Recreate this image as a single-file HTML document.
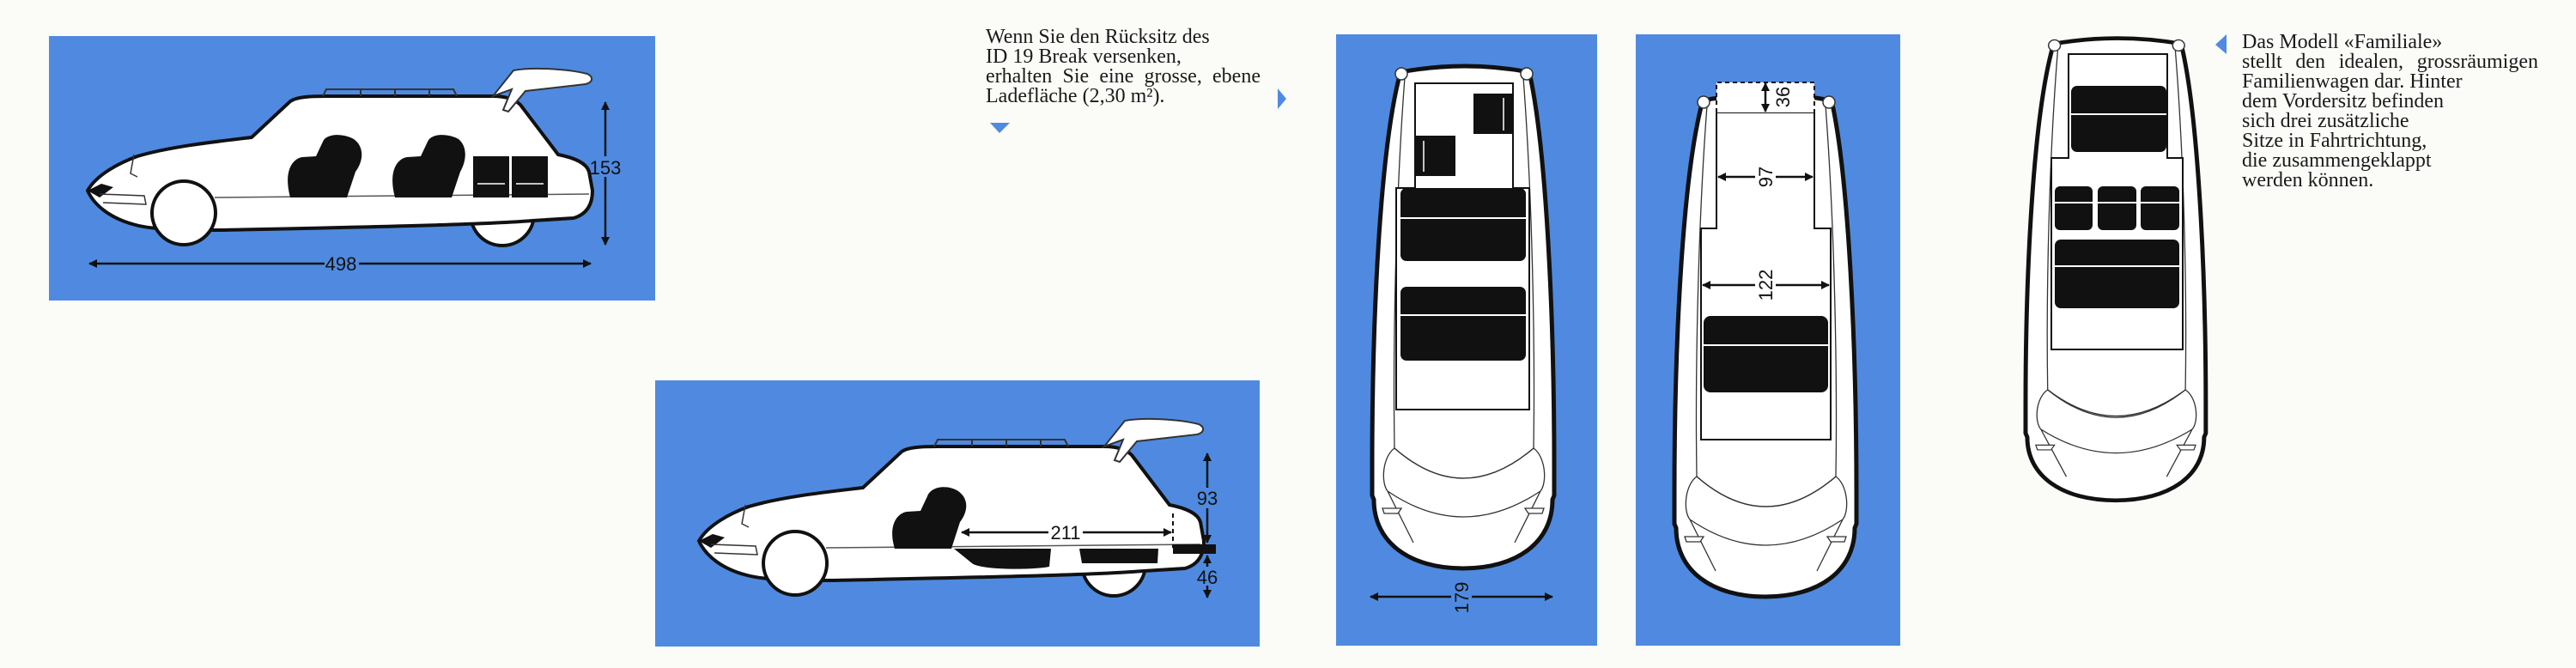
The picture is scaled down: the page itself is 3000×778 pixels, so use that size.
<!DOCTYPE html>
<html><head><meta charset="utf-8"><style>
html,body{margin:0;padding:0;background:#fbfbf8;}
body{width:3000px;height:778px;position:relative;overflow:hidden;}
.t{position:absolute;font-family:"Liberation Serif",serif;font-size:24px;line-height:23px;color:#1a1a1a;}
.j{text-align:justify;}
</style></head><body>
<svg width="3000" height="778" viewBox="0 0 3000 778" style="position:absolute;left:0;top:0">
<defs>
<g id="side">
  <circle cx="585" cy="249" r="37" fill="#fff" stroke="#111" stroke-width="4"/>
  <path d="M102,222 C112,204 138,190 160,182 C200,170 260,164 293,160 L338,118 C345,113 360,112 380,112 L574,112 C590,112 600,116 606,122 L650,180 C670,184 683,190 686,200 L690,222 C690,240 682,250 668,254 L620,257 C560,262 400,265 255,268 C220,268 180,268 158,262 C130,255 110,240 102,222 Z" fill="#fff" stroke="#111" stroke-width="4"/>
  <path d="M102,222 L118,214 L132,218 L116,230 Z" fill="#111"/>
  <path d="M116,226 L168,228 L170,238 L120,236" fill="none" stroke="#333" stroke-width="1.5"/>
  <path d="M156,180 L152,202 L160,206" fill="none" stroke="#333" stroke-width="1.5"/>
  <path d="M250,230 L686,226" stroke="#555" stroke-width="1.5"/>
  <path d="M574,112 L598,82 C620,78 660,80 684,86 C692,90 690,96 682,98 L612,106 L592,130 L586,128 L596,104 Z" fill="#fff" stroke="#333" stroke-width="2"/>
  <path d="M376,112 L380,104 L528,104 L532,112 M420,104 L420,112 M460,104 L460,112 M500,104 L500,112" fill="none" stroke="#333" stroke-width="2"/>
  <circle cx="214" cy="248" r="37" fill="#fff" stroke="#111" stroke-width="4"/>
</g>
<g id="topcar">
  <path d="M35,12 Q110,-2 185,12 C205,100 214,300 214,470 L214,505 L212,510 C212,560 170,590 108,590 C46,590 4,560 4,510 L2,505 L2,470 C2,300 11,100 35,12 Z" fill="#fff" stroke="#111" stroke-width="5"/>
  <path d="M40,18 C30,150 26,320 28,450 M178,18 C188,150 192,320 190,450" fill="none" stroke="#333" stroke-width="1.3"/>
  <path d="M28,450 C14,460 12,490 20,500 L50,560 M190,450 C204,460 206,490 198,500 L168,560 M20,500 Q108,560 198,500" fill="none" stroke="#333" stroke-width="1.3"/>
  <path d="M28,450 Q108,520 190,450" fill="none" stroke="#333" stroke-width="1.3"/>
  <path d="M14,520 L36,520 L32,526 L16,526 Z M202,520 L180,520 L184,526 L200,526 Z" fill="#fff" stroke="#333" stroke-width="1.3"/>
  <circle cx="36" cy="14" r="7" fill="#fff" stroke="#333" stroke-width="1.5"/>
  <circle cx="182" cy="14" r="7" fill="#fff" stroke="#333" stroke-width="1.5"/>
</g>
<marker id="ah" viewBox="0 0 10 10" refX="9" refY="5" markerWidth="4" markerHeight="4" orient="auto-start-reverse"><path d="M0,0 L10,5 L0,10 Z" fill="#111"/></marker>
</defs>

<rect x="57" y="42" width="706" height="308" fill="#4f8ae0"/>
<use href="#side"/>
<path d="M338,230 C330,200 340,185 352,183 L368,182 L376,165 C380,155 400,155 412,162 C426,172 422,190 414,200 L404,230 Z" fill="#111"/>
<path d="M460,230 C452,200 462,185 474,183 L490,182 L498,165 C502,155 522,155 534,162 C546,172 542,190 536,200 L526,230 Z" fill="#111"/>
<rect x="551" y="182" width="42" height="48" fill="#111"/><rect x="596" y="182" width="42" height="48" fill="#111"/>
<path d="M556,214 L588,214 M601,214 L633,214" stroke="#fff" stroke-width="1.5"/>
<line x1="104" y1="307" x2="688" y2="307" stroke="#111" stroke-width="2.5" marker-start="url(#ah)" marker-end="url(#ah)"/>
<rect x="378" y="296" width="40" height="22" fill="#4f8ae0"/>
<text x="397" y="315" font-family="Liberation Sans,sans-serif" font-size="22" text-anchor="middle" fill="#111">498</text>
<line x1="705" y1="119" x2="705" y2="285" stroke="#111" stroke-width="2.5" marker-start="url(#ah)" marker-end="url(#ah)"/>
<rect x="690" y="182" width="34" height="24" fill="#4f8ae0"/>
<text x="705" y="203" font-family="Liberation Sans,sans-serif" font-size="22" text-anchor="middle" fill="#111">153</text>

<rect x="763" y="443" width="704" height="310" fill="#4f8ae0"/>
<g transform="translate(712,408)">
<use href="#side"/>
<path d="M330,231 C322,205 332,190 344,188 L360,187 L368,170 C372,158 392,156 404,164 C418,174 414,190 406,200 L396,231 Z" fill="#111"/>
<path d="M399,231 L512,231 L510,252 C490,256 430,256 420,248 Z" fill="#111"/>
<path d="M545,231 L637,231 L636,248 L548,248 Z" fill="#111"/>
<rect x="654" y="226" width="50" height="11" fill="#111"/>
<line x1="654" y1="190" x2="654" y2="230" stroke="#111" stroke-width="2" stroke-dasharray="5,4"/>
<line x1="408" y1="212" x2="652" y2="212" stroke="#111" stroke-width="2.5" marker-start="url(#ah)" marker-end="url(#ah)"/>
<rect x="509" y="200" width="40" height="24" fill="#fff"/>
<text x="529" y="220" font-family="Liberation Sans,sans-serif" font-size="22" text-anchor="middle" fill="#111">211</text>
<line x1="694" y1="120" x2="694" y2="224" stroke="#111" stroke-width="2.5" marker-start="url(#ah)" marker-end="url(#ah)"/>
<rect x="682" y="160" width="26" height="24" fill="#4f8ae0"/>
<text x="694" y="180" font-family="Liberation Sans,sans-serif" font-size="22" text-anchor="middle" fill="#111">93</text>
<line x1="694" y1="239" x2="694" y2="288" stroke="#111" stroke-width="2.5" marker-start="url(#ah)" marker-end="url(#ah)"/>
<rect x="682" y="252" width="26" height="22" fill="#4f8ae0"/>
<text x="694" y="272" font-family="Liberation Sans,sans-serif" font-size="22" text-anchor="middle" fill="#111">46</text>
</g>

<rect x="1556" y="40" width="304" height="712" fill="#4f8ae0"/>
<g transform="translate(1596,72)">
<use href="#topcar"/>
<path d="M52,147 L52,25 L166,25 L166,147 L185,147 L185,405 L30,405 L30,147 Z" fill="#fff" stroke="#111" stroke-width="2"/>
<path d="M28,450 Q108,520 190,450" fill="none" stroke="#333" stroke-width="1.3"/>
<rect x="120" y="37" width="45" height="47" fill="#111"/><line x1="155" y1="42" x2="155" y2="80" stroke="#fff" stroke-width="1.5"/>
<rect x="51" y="86" width="48" height="47" fill="#111"/><line x1="62" y1="92" x2="62" y2="128" stroke="#fff" stroke-width="1.5"/>
<rect x="35" y="147" width="146" height="85" rx="7" fill="#111"/><line x1="35" y1="182" x2="181" y2="182" stroke="#fff" stroke-width="2"/>
<rect x="35" y="262" width="146" height="86" rx="7" fill="#111"/><line x1="35" y1="295" x2="181" y2="295" stroke="#fff" stroke-width="2"/>
</g>
<line x1="1596" y1="695" x2="1808" y2="695" stroke="#111" stroke-width="2.5" marker-start="url(#ah)" marker-end="url(#ah)"/>
<rect x="1690" y="678" width="24" height="36" fill="#4f8ae0"/>
<text transform="translate(1710,696) rotate(-90)" font-family="Liberation Sans,sans-serif" font-size="22" text-anchor="middle" fill="#111">179</text>

<rect x="1905" y="40" width="308" height="712" fill="#4f8ae0"/>
<g transform="translate(1948,105)">
<use href="#topcar"/>
<path d="M51,161 L51,26 L165,26 L165,161 L184,161 L184,407 L33,407 L33,161 Z" fill="#fff" stroke="#111" stroke-width="2"/>
<path d="M28,450 Q108,520 190,450" fill="none" stroke="#333" stroke-width="1.3"/>
<path d="M51,26 L51,-9 L165,-9 L165,26" fill="#fff" stroke="#111" stroke-width="2" stroke-dasharray="5,4"/>
<line x1="108" y1="-8" x2="108" y2="25" stroke="#111" stroke-width="2.5" marker-start="url(#ah)" marker-end="url(#ah)"/>
<text transform="translate(136,8) rotate(-90)" font-family="Liberation Sans,sans-serif" font-size="22" text-anchor="middle" fill="#111">36</text>
<line x1="53" y1="101" x2="163" y2="101" stroke="#111" stroke-width="2.5" marker-start="url(#ah)" marker-end="url(#ah)"/>
<rect x="96" y="84" width="24" height="34" fill="#fff"/>
<text transform="translate(116,101) rotate(-90)" font-family="Liberation Sans,sans-serif" font-size="22" text-anchor="middle" fill="#111">97</text>
<line x1="35" y1="227" x2="182" y2="227" stroke="#111" stroke-width="2.5" marker-start="url(#ah)" marker-end="url(#ah)"/>
<rect x="96" y="205" width="24" height="44" fill="#fff"/>
<text transform="translate(116,227) rotate(-90)" font-family="Liberation Sans,sans-serif" font-size="22" text-anchor="middle" fill="#111">122</text>
<rect x="36" y="263" width="145" height="89" rx="8" fill="#111"/><line x1="36" y1="297" x2="181" y2="297" stroke="#fff" stroke-width="2"/>
</g>

<g transform="translate(2357,40) scale(0.99,0.92)">
<use href="#topcar"/>
</g>
<path d="M2409,184 L2409,63 L2524,63 L2524,184 L2542,184 L2542,407 L2389,407 L2389,184 Z" fill="#fff" stroke="#111" stroke-width="2"/>
<path d="M2385,454 Q2464,515 2545,454" fill="none" stroke="#333" stroke-width="1.3"/>
<rect x="2412" y="100" width="111" height="77" rx="7" fill="#111"/><line x1="2412" y1="133" x2="2523" y2="133" stroke="#fff" stroke-width="2"/>
<rect x="2393" y="217" width="44" height="51" rx="6" fill="#111"/>
<rect x="2443" y="217" width="45" height="51" rx="6" fill="#111"/>
<rect x="2493" y="217" width="45" height="51" rx="6" fill="#111"/>
<line x1="2393" y1="236" x2="2538" y2="236" stroke="#fff" stroke-width="2"/>
<rect x="2393" y="279" width="145" height="80" rx="7" fill="#111"/><line x1="2393" y1="310" x2="2538" y2="310" stroke="#fff" stroke-width="2"/>

<path d="M1153,143 L1176,143 L1164,155 Z" fill="#4f8ae0"/>
<path d="M1488,103 L1498,115 L1488,127 Z" fill="#4f8ae0"/>
<path d="M2593,40 L2580,52 L2593,63 Z" fill="#4f8ae0"/>
</svg>

<div class="t j" style="left:1148px;top:32px;width:320px;">Wenn Sie den Rücksitz des<br>ID 19 Break versenken,<br><span style="display:block;text-align:justify;text-align-last:justify">erhalten Sie eine grosse, ebene</span>Ladefläche (2,30 m²).</div>
<div class="t" style="left:2611px;top:38px;width:345px;">Das Modell «Familiale»<br><span style="display:block;text-align:justify;text-align-last:justify">stellt den idealen, grossräumigen</span>Familienwagen dar. Hinter<br>dem Vordersitz befinden<br>sich drei zusätzliche<br>Sitze in Fahrtrichtung,<br>die zusammengeklappt<br>werden können.</div>
</body></html>
